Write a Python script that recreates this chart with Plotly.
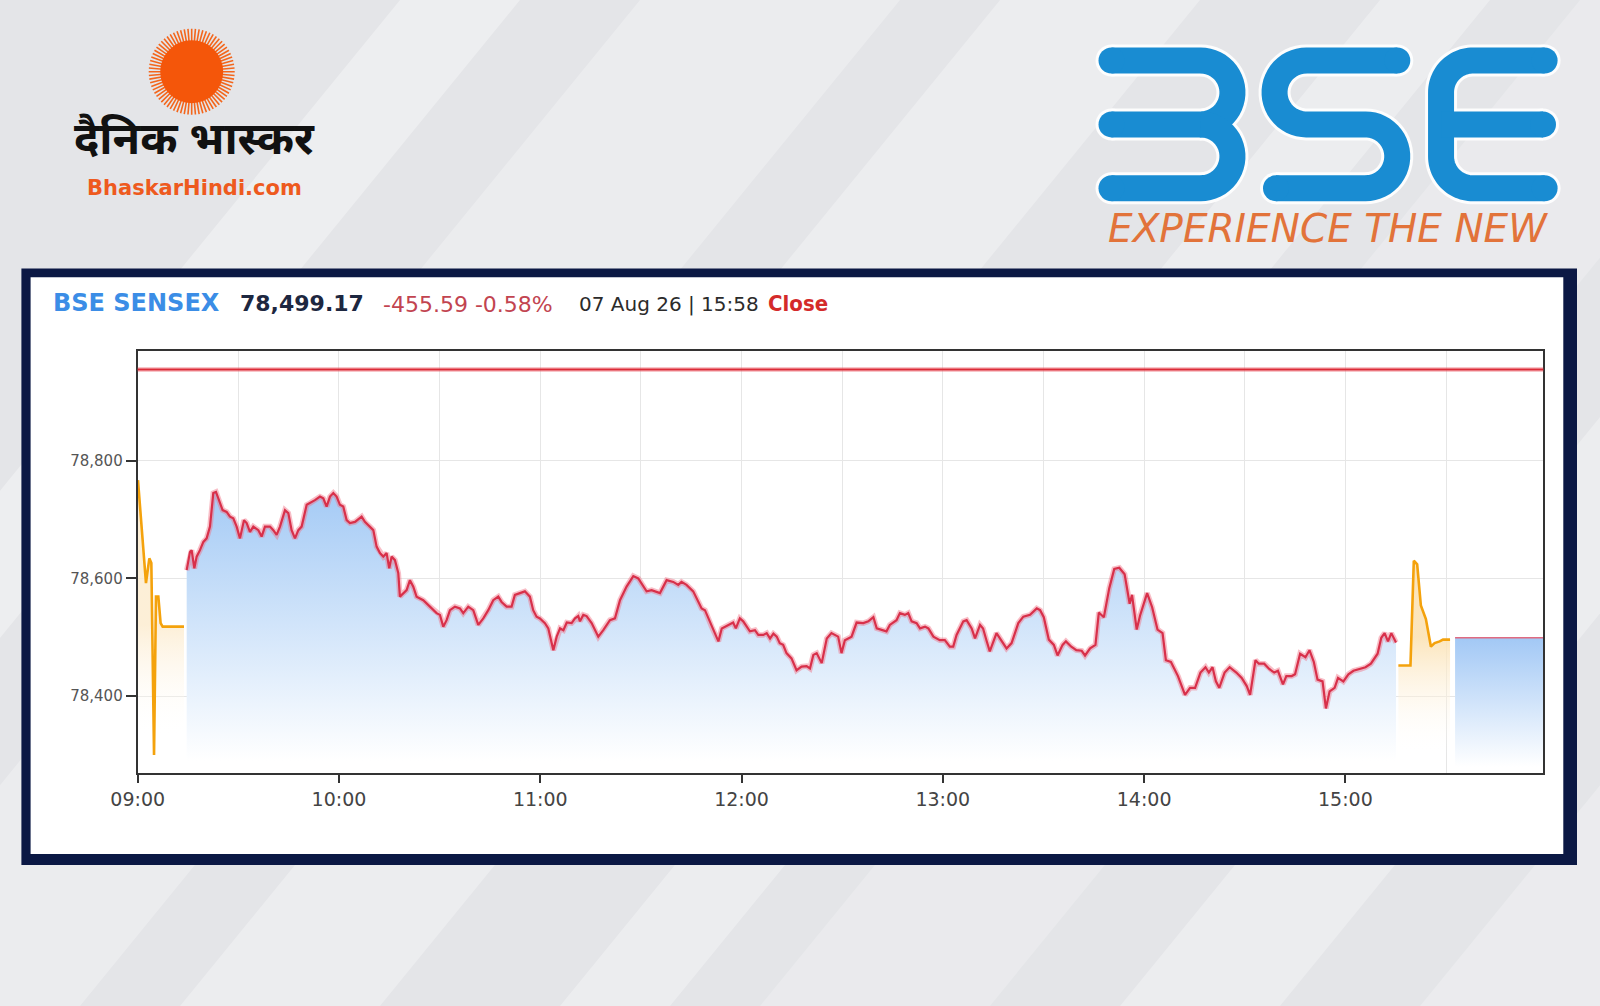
import numpy as np
import plotly.graph_objects as go

# figure size in px, everything outside the plot is placed in px and converted to paper
W, H = 1600, 1006
DAY = "2026-08-07 "

# header values
INDEX_NAME = "BSE SENSEX"
LAST_VALUE = 78499.17
CHANGE = -455.59
CHANGE_PCT = -0.58
STAMP = "07 Aug 26 | 15:58"
STATUS = "Close"
PREV_CLOSE = round(LAST_VALUE - CHANGE, 2)

# pre-open (orange)
preopen_time = ["09:00:05", "09:02:28", "09:03:28", "09:04:04", "09:04:52", "09:05:27",
                "09:06:09", "09:06:50", "09:07:26", "09:13:48"]
preopen_value = [78767, 78592, 78634, 78626, 78300, 78569, 78569, 78524, 78518, 78518]

# continuous session (red)
session_time = [
    "09:14:36", "09:15:35", "09:16:05", "09:16:53", "09:17:34", "09:18:34", "09:19:34", "09:20:33",
    "09:21:33", "09:22:32", "09:23:20", "09:24:32", "09:25:19", "09:26:31", "09:27:31", "09:28:30",
    "09:29:30", "09:30:29", "09:31:41", "09:32:29", "09:33:28", "09:34:28", "09:35:58", "09:36:57",
    "09:37:56", "09:39:26", "09:40:26", "09:41:25", "09:42:25", "09:43:54", "09:44:54", "09:45:53",
    "09:46:53", "09:47:53", "09:48:52", "09:50:22", "09:51:21", "09:52:50", "09:54:20", "09:55:20",
    "09:56:19", "09:57:19", "09:58:19", "09:59:18", "10:00:17", "10:01:17", "10:02:17", "10:03:16",
    "10:04:46", "10:06:45", "10:07:44", "10:09:14", "10:10:14", "10:11:13", "10:12:13", "10:13:13",
    "10:14:12", "10:14:59", "10:15:41", "10:16:41", "10:17:41", "10:18:10", "10:19:10", "10:20:10",
    "10:21:09", "10:22:09", "10:23:08", "10:25:08", "10:27:07", "10:29:06", "10:30:06", "10:31:05",
    "10:32:05", "10:33:05", "10:34:34", "10:36:04", "10:37:03", "10:38:32", "10:40:02", "10:41:31",
    "10:43:01", "10:44:30", "10:45:59", "10:47:29", "10:48:28", "10:49:58", "10:51:27", "10:52:26",
    "10:53:56", "10:55:25", "10:56:55", "10:57:54", "10:58:54", "10:59:54", "11:01:24", "11:02:24",
    "11:03:54", "11:04:54", "11:05:54", "11:06:54", "11:07:54", "11:09:21", "11:10:21", "11:11:20",
    "11:11:50", "11:12:50", "11:13:49", "11:15:19", "11:17:18", "11:18:47", "11:20:46", "11:22:16",
    "11:23:46", "11:25:44", "11:27:44", "11:29:13", "11:31:42", "11:33:12", "11:35:41", "11:37:40",
    "11:39:39", "11:41:08", "11:42:06", "11:43:36", "11:45:36", "11:48:06", "11:49:06", "11:51:06",
    "11:53:06", "11:54:06", "11:56:00", "11:57:30", "11:58:18", "11:59:30", "12:00:30", "12:02:30",
    "12:04:00", "12:05:00", "12:06:30", "12:07:30", "12:08:30", "12:09:30", "12:10:30", "12:11:24",
    "12:12:24", "12:13:24", "12:14:54", "12:16:24", "12:17:54", "12:19:24", "12:20:24", "12:21:24",
    "12:22:24", "12:23:54", "12:25:24", "12:26:48", "12:28:48", "12:29:48", "12:30:48", "12:32:48",
    "12:34:18", "12:36:18", "12:37:48", "12:39:18", "12:40:18", "12:41:48", "12:43:12", "12:44:12",
    "12:46:12", "12:47:12", "12:48:42", "12:49:42", "12:50:42", "12:52:12", "12:53:12", "12:54:42",
    "12:55:42", "12:57:12", "12:59:06", "13:00:36", "13:02:06", "13:03:06", "13:04:06", "13:06:06",
    "13:07:06", "13:08:36", "13:09:36", "13:11:06", "13:12:00", "13:13:00", "13:14:00", "13:16:00",
    "13:17:30", "13:19:00", "13:20:30", "13:22:30", "13:24:00", "13:26:00", "13:28:00", "13:29:00",
    "13:30:06", "13:31:36", "13:33:06", "13:34:12", "13:35:42", "13:36:42", "13:38:18", "13:39:48",
    "13:41:24", "13:42:24", "13:43:54", "13:45:30", "13:46:30", "13:48:00", "13:49:36", "13:51:06",
    "13:52:36", "13:54:12", "13:55:42", "13:56:24", "13:57:48", "13:58:48", "14:00:54", "14:02:24",
    "14:04:00", "14:05:30", "14:06:30", "14:08:00", "14:10:06", "14:12:12", "14:13:42", "14:15:12",
    "14:16:48", "14:18:18", "14:19:18", "14:20:24", "14:21:24", "14:22:24", "14:24:00", "14:25:30",
    "14:27:30", "14:29:06", "14:30:36", "14:31:36", "14:33:12", "14:34:12", "14:35:48", "14:37:18",
    "14:38:48", "14:39:54", "14:41:24", "14:42:24", "14:44:00", "14:45:00", "14:46:30", "14:48:06",
    "14:49:18", "14:50:36", "14:51:42", "14:53:12", "14:54:12", "14:55:18", "14:56:48", "14:57:48",
    "14:59:24", "15:00:54", "15:02:24", "15:04:30", "15:06:00", "15:07:36", "15:08:36", "15:09:36",
    "15:10:42", "15:11:42", "15:12:42", "15:13:42", "15:15:06",
]
session_value = [
    78614, 78645, 78648, 78617, 78637, 78648, 78662, 78668,
    78688, 78745, 78747, 78728, 78716, 78713, 78705, 78702,
    78688, 78668, 78699, 78694, 78679, 78688, 78682, 78671,
    78688, 78688, 78682, 78674, 78688, 78716, 78711, 78682,
    78668, 78682, 78688, 78725, 78728, 78733, 78739, 78736,
    78722, 78739, 78745, 78739, 78725, 78722, 78699, 78694,
    78696, 78705, 78696, 78688, 78682, 78654, 78643, 78637,
    78643, 78617, 78637, 78631, 78609, 78569, 78575, 78580,
    78597, 78586, 78569, 78563, 78552, 78541, 78538, 78518,
    78529, 78546, 78552, 78549, 78541, 78552, 78546, 78521,
    78532, 78546, 78563, 78569, 78560, 78552, 78552, 78572,
    78575, 78578, 78569, 78546, 78535, 78532, 78524, 78515,
    78478, 78501, 78515, 78512, 78525, 78524, 78532, 78536,
    78527, 78538, 78536, 78524, 78501, 78512, 78529, 78532,
    78563, 78586, 78604, 78600, 78578, 78580, 78575, 78597,
    78594, 78589, 78594, 78589, 78578, 78549, 78546, 78518,
    78493, 78515, 78521, 78525, 78515, 78532, 78527, 78510,
    78512, 78504, 78504, 78507, 78498, 78506, 78501, 78490,
    78487, 78473, 78464, 78444, 78450, 78451, 78447, 78470,
    78473, 78456, 78498, 78507, 78501, 78473, 78495, 78501,
    78525, 78524, 78527, 78534, 78515, 78512, 78510, 78521,
    78529, 78541, 78538, 78541, 78527, 78524, 78515, 78518,
    78515, 78501, 78495, 78495, 78484, 78484, 78504, 78527,
    78529, 78515, 78498, 78521, 78515, 78495, 78476, 78507,
    78495, 78481, 78490, 78524, 78535, 78538, 78549, 78546,
    78534, 78496, 78487, 78469, 78487, 78493, 78484, 78478,
    78477, 78469, 78481, 78487, 78542, 78534, 78583, 78616,
    78618, 78607, 78557, 78572, 78513, 78537, 78575, 78551,
    78513, 78507, 78461, 78458, 78434, 78402, 78414, 78414,
    78440, 78449, 78440, 78449, 78425, 78414, 78440, 78449,
    78440, 78431, 78417, 78402, 78461, 78455, 78455, 78446,
    78440, 78443, 78420, 78434, 78434, 78437, 78472, 78466,
    78478, 78458, 78428, 78425, 78379, 78408, 78414, 78431,
    78425, 78437, 78443, 78446, 78449, 78455, 78463, 78472,
    78499, 78507, 78493, 78507, 78491,
]

# closing session (orange)
postclose_time = ["15:15:48", "15:19:24", "15:20:24", "15:21:24", "15:22:30", "15:24:00",
                  "15:25:30", "15:26:36", "15:28:06", "15:29:06", "15:31:12"]
postclose_value = [78452, 78452, 78630, 78624, 78554, 78531, 78484, 78490, 78493, 78496, 78496]

# after close, flat at last value
closing_time = ["15:32:42", "15:58:55"]
closing_value = [LAST_VALUE, LAST_VALUE]

x_tick_labels = ["09:00", "10:00", "11:00", "12:00", "13:00", "14:00", "15:00"]
y_tick_values = [78400, 78600, 78800]
x_view = ["09:00:00", "15:59:00"]
y_view = [78268.8, 78986.9]


def px(x):
    return x / W


def py(y):
    return 1 - y / H


def pathstr(points):
    return "M " + " L ".join(f"{px(x):.5f},{py(y):.5f}" for x, y in points)


def arc(cx, cy, r, a0, a1, n=28):
    a = np.linspace(a0, a1, n)
    return list(zip(cx + r * np.cos(a), cy + r * np.sin(a)))


def stamp(lst):
    return [DAY + s for s in lst]


shapes = []

# background streaks, soft
for x0, w, op in [(-420, 120, 0.35), (-180, 260, 0.28), (180, 200, 0.3), (560, 110, 0.32),
                  (760, 230, 0.22), (1120, 160, 0.3), (1420, 260, 0.25)]:
    pts = [(x0, H), (x0 + w, H), (x0 + w + 820, 0), (x0 + 820, 0), (x0, H)]
    shapes.append(dict(type="path", path=pathstr(pts) + " Z", xref="paper", yref="paper",
                       fillcolor="white", opacity=op, line=dict(width=0), layer="below"))

# navy frame and white card
shapes.append(dict(type="rect", xref="paper", yref="paper", x0=px(21.4), x1=px(1577), y0=py(865), y1=py(268.4),
                   fillcolor="#0b1844", line=dict(width=0), layer="below"))
shapes.append(dict(type="rect", xref="paper", yref="paper", x0=px(30.6), x1=px(1563.3), y0=py(854), y1=py(277.3),
                   fillcolor="white", line=dict(width=0), layer="below"))

# previous close line
shapes.append(dict(type="line", xref="x domain", yref="y", x0=0, x1=1, y0=PREV_CLOSE, y1=PREV_CLOSE,
                   line=dict(color="rgba(235,90,100,0.35)", width=5)))
shapes.append(dict(type="line", xref="x domain", yref="y", x0=0, x1=1, y0=PREV_CLOSE, y1=PREV_CLOSE,
                   line=dict(color="#dc2b37", width=2)))

# Dainik Bhaskar sun
sun_x, sun_y = 191.7, 71.7
ray = []
for a in np.linspace(0, 2 * np.pi, 72, endpoint=False):
    ray.append(f"M {px(sun_x + 29 * np.cos(a)):.5f},{py(sun_y + 29 * np.sin(a)):.5f} "
               f"L {px(sun_x + 43 * np.cos(a)):.5f},{py(sun_y + 43 * np.sin(a)):.5f}")
shapes.append(dict(type="path", path=" ".join(ray), xref="paper", yref="paper",
                   line=dict(color="#f3661c", width=1.6)))
shapes.append(dict(type="circle", xref="paper", yref="paper", x0=px(sun_x - 31.5), x1=px(sun_x + 31.5),
                   y0=py(sun_y + 31.5), y1=py(sun_y - 31.5), fillcolor="#f4560a", line=dict(width=0)))

# BSE logo strokes
T, M, B = 60.5, 124.4, 188.3
r = (M - T) / 2
strokes = []
caps = []
# 3
strokes.append([(1111.5, T)] + arc(1200.5, (T + M) / 2, r, -np.pi / 2, np.pi / 2) + [(1111.5, M)])
strokes.append([(1200.5, M)] + arc(1200.5, (M + B) / 2, r, -np.pi / 2, np.pi / 2) + [(1111.5, B)])
caps += [(1111.5, T), (1111.5, M), (1111.5, B)]
# S
strokes.append([(1397.3, T)] + arc(1306.5, (T + M) / 2, r, -np.pi / 2, -1.5 * np.pi)
               + arc(1365.3, (M + B) / 2, r, -np.pi / 2, np.pi / 2) + [(1276, B)])
caps += [(1397.3, T), (1276, B)]
# E
strokes.append([(1544.6, T)] + arc(1473, T + r, r, -np.pi / 2, -np.pi)
               + arc(1473, B - r, r, np.pi, np.pi / 2) + [(1544.6, B)])
strokes.append([(1473 - r, M), (1543, M)])
caps += [(1544.6, T), (1543, M), (1544.6, B)]

for color, width, rad in [("rgba(255,255,255,0.9)", 32, 16), ("#198cd2", 26, 13)]:
    for s in strokes:
        shapes.append(dict(type="path", path=pathstr(s), xref="paper", yref="paper",
                           line=dict(color=color, width=width)))
    for cx, cy in caps:
        shapes.append(dict(type="circle", xref="paper", yref="paper", x0=px(cx - rad), x1=px(cx + rad),
                           y0=py(cy + rad), y1=py(cy - rad), fillcolor=color, line=dict(width=0)))

fig = go.Figure()

# pre-open
fig.add_trace(go.Scatter(
    x=stamp(preopen_time), y=preopen_value, mode="lines", fill="tozeroy",
    line=dict(color="#f4a20c", width=2.6),
    fillgradient=dict(type="vertical", start=78330, stop=78520,
                      colorscale=[[0, "rgba(255,255,255,0)"], [1, "rgba(252,235,205,0.8)"]]),
))

# session halo + line with blue gradient fill
fig.add_trace(go.Scatter(
    x=stamp(session_time), y=session_value, mode="lines", fill="tozeroy",
    line=dict(color="rgba(240,110,130,0.45)", width=5.5),
    fillgradient=dict(type="vertical", start=78290, stop=78760,
                      colorscale=[[0, "rgba(255,255,255,1)"], [1, "#a2c9f5"]]),
))
fig.add_trace(go.Scatter(
    x=stamp(session_time), y=session_value, mode="lines",
    line=dict(color="#d8304a", width=2.2),
))

# closing session
fig.add_trace(go.Scatter(
    x=stamp(postclose_time), y=postclose_value, mode="lines", fill="tozeroy",
    line=dict(color="#f4a20c", width=2.6),
    fillgradient=dict(type="vertical", start=78300, stop=78500,
                      colorscale=[[0, "rgba(255,255,255,0)"], [1, "rgba(251,226,180,0.9)"]]),
))

# after close block
fig.add_trace(go.Scatter(
    x=stamp(closing_time), y=closing_value, mode="lines", fill="tozeroy",
    line=dict(color="#e06a80", width=1.5),
    fillgradient=dict(type="vertical", start=78280, stop=78499,
                      colorscale=[[0, "rgba(255,255,255,1)"], [1, "#a2c8f5"]]),
))

annotations = []


def label(x, y, text, size, color, family, weight="normal", style="normal", anchor="left"):
    annotations.append(dict(xref="paper", yref="paper", x=px(x), y=py(y), text=text, showarrow=False,
                            xanchor=anchor, yanchor="middle",
                            font=dict(size=size, color=color, family=family, weight=weight, style=style)))


# header of the card
label(51, 303, INDEX_NAME, 24, "#3b8de6", "DejaVu Sans", weight="bold")
label(238, 303, f"{LAST_VALUE:,.2f}", 22, "#1d2740", "DejaVu Sans", weight="bold")
label(381, 304, f"{CHANGE:,.2f} {CHANGE_PCT:.2f}%", 22, "#c24450", "DejaVu Sans")
label(577, 304, STAMP, 20, "#2b2b2b", "DejaVu Sans")
label(766, 303, STATUS, 22, "#d42a2a", "DejaVu Sans Condensed, DejaVu Sans", weight="bold")

# logos text
label(194, 143, "दैनिक भास्कर", 45, "#111111", "Noto Sans Devanagari, Lohit Devanagari, Noto Sans, sans-serif",
      weight="bold", anchor="center")
label(194, 188, "BhaskarHindi.com", 21, "#ee5a1e", "DejaVu Sans", weight="bold", anchor="center")
label(1328, 229, "EXPERIENCE THE NEW", 39, "#e2733a", "DejaVu Sans", weight=300, style="italic", anchor="center")

half_hours = [DAY + f"{h:02d}:30" for h in range(9, 16)]

fig.update_layout(
    width=W, height=H,
    margin=dict(l=0, r=0, t=0, b=0),
    paper_bgcolor="#e4e5e8",
    plot_bgcolor="white",
    showlegend=False,
    shapes=shapes,
    annotations=annotations,
    xaxis=dict(
        domain=[px(137.7), px(1543.3)], type="date", range=stamp(x_view),
        tickmode="array", tickvals=stamp(x_tick_labels), ticktext=x_tick_labels,
        ticks="outside", ticklen=8, tickwidth=1.5, tickcolor="#333",
        showgrid=True, gridcolor="#e6e6e6", gridwidth=1,
        minor=dict(tickmode="array", tickvals=half_hours, showgrid=True, gridcolor="#e6e6e6", ticks=""),
        showline=True, linecolor="#333", linewidth=2, mirror=True,
        tickfont=dict(family="DejaVu Sans", size=19, color="#444"),
        automargin=False, zeroline=False,
    ),
    yaxis=dict(
        domain=[py(773.3), py(350.7)], range=y_view,
        tickmode="array", tickvals=y_tick_values, ticktext=[f"{v:,}" for v in y_tick_values],
        ticks="outside", ticklen=10, tickwidth=1.5, tickcolor="#333",
        showgrid=True, gridcolor="#e6e6e6", gridwidth=1,
        showline=True, linecolor="#333", linewidth=2, mirror=True,
        tickfont=dict(family="DejaVu Sans", size=15, color="#555"),
        automargin=False, zeroline=False,
    ),
)

fig.write_html("out.html", config={"displayModeBar": False},
               post_script="document.body.style.margin='0px';document.body.style.overflow='hidden';")
